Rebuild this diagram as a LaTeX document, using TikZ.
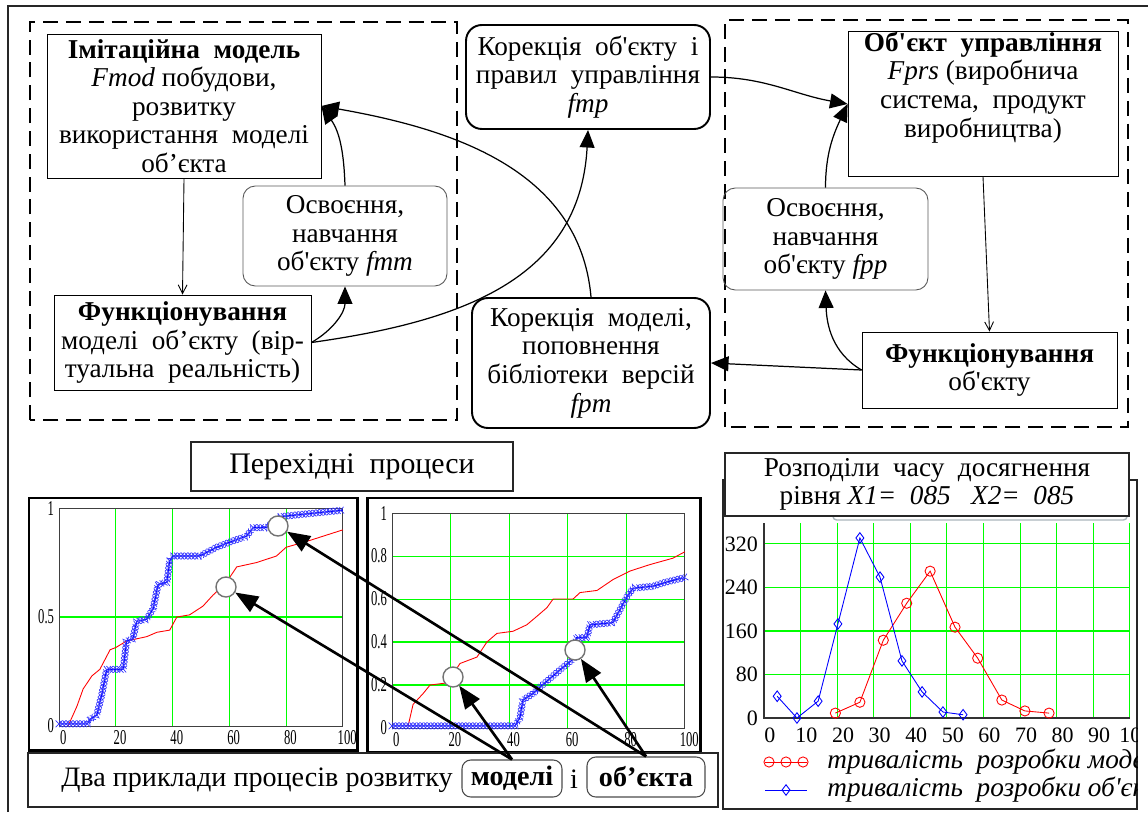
\documentclass[tikz,border=0pt]{standalone}
\usepackage{fontspec}
\usepackage{graphicx}
\setmainfont{Liberation Serif}
\newfontfamily\plainserif{Liberation Serif}
\usetikzlibrary{arrows.meta,decorations.markings,plotmarks}
\newcommand{\ap}{{\plainserif'}}
\newcommand{\narrow}[1]{\scalebox{0.6}[1]{#1}}

\tikzset{
  boxtext/.style={font=\fontsize{15.5}{16.3}\selectfont, align=center, inner sep=0pt},
  plainbox/.style={boxtext, draw, line width=0.5pt},
  softbox/.style={boxtext, draw=black!65, line width=0.5pt, rounded corners=7pt},
  corrbox/.style={boxtext, draw, line width=1.1pt, rounded corners=9pt},
  heavybox/.style={draw=black!85, line width=1.3pt, fill=white, align=center, inner sep=0pt},
  tagbox/.style={draw=black!70, line width=0.6pt, rounded corners=5pt, inner sep=0pt,
    font=\fontsize{16}{18}\selectfont},
  flow/.style={line width=0.7pt, -{Triangle[length=10pt,width=8.5pt]}},
  thinflow/.style={line width=0.5pt, -{Straight Barb[length=5pt,width=5pt]}},
  pointer/.style={line width=1.5pt, -{Triangle[length=13pt,width=10pt]}},
  spot/.style={circle, draw=black!55, fill=white, line width=0.8pt, minimum size=11.4pt, inner sep=0pt},
  grid line/.style={green, line width=0.6pt},
  ticklabel/.style={font=\fontsize{12}{12}\selectfont, inner sep=1pt},
  scalelabel/.style={font=\fontsize{12.5}{12.5}\selectfont, inner sep=0pt},
  xtrace/.style={blue, line width=0.6pt, postaction={decorate, decoration={markings,
    mark=between positions 0 and 1 step 2pt with {\draw[blue!80, line width=0.4pt]
      (-1.9pt,-1.9pt) -- (1.9pt,1.9pt) (-1.9pt,1.9pt) -- (1.9pt,-1.9pt);}}}},
}

\begin{document}
\begin{tikzpicture}[x=0.02cm, y=0.02cm]
  \useasboundingbox (0,0) rectangle (1148,812);
  \draw[line width=1.3pt, black!85] (8,0) -- (8,806) -- (1148,806);
  \draw[line width=1.6pt, dash pattern=on 8.5pt off 4.5pt] (30,392) rectangle (457,790);
  \draw[line width=1.6pt, dash pattern=on 8.5pt off 4.5pt] (725,385) rectangle (1128,792);

  \node[plainbox, minimum width=5.48cm, minimum height=2.88cm] (imit) at (184,706)
    {\textbf{Імітаційна\ \ модель}\\ \textit{Fmod} побудови,\\ розвитку\\ використання\ \ моделі\\ об’єкта};
  \node[plainbox, minimum width=5.14cm, minimum height=1.9cm] (funkm) at (182.5,469.5)
    {\textbf{Функціонування}\\ моделі\ \ об’єкту\ \ (вір-\\ туальна\ \ реальність)};
  \node[softbox, minimum width=4.08cm, minimum height=2cm] (fmm) at (345,576)
    {Освоєння,\\ навчання\\ об\ap єкту \textit{fmm}};
  \node[corrbox, minimum width=4.88cm, minimum height=2.08cm] (fmp) at (588,735)
    {Корекція\ \ об\ap єкту\ \ і\\ правил\ \ управління\\ \textit{fmp}};
  \node[corrbox, minimum width=4.76cm, minimum height=2.6cm] (fpm) at (591,449)
    {Корекція\ \ моделі,\\ поповнення\\ бібліотеки\ \ версій\\ \textit{fpm}};
  \node[plainbox, minimum width=5.4cm, minimum height=2.8cm] (obj) at (983,708)
    {\textbf{Об\ap єкт\ \ управління}\\ \textit{Fprs} (виробнича\\ система,\ \ продукт\\ виробництва)\\[6pt]};
  \node[softbox, minimum width=4.1cm, minimum height=2.04cm] (fpp) at (825.5,573)
    {Освоєння,\\ навчання\\ об\ap єкту \textit{fpp}};
  \node[plainbox, minimum width=5.1cm, minimum height=1.52cm] (funko) at (989.5,442)
    {\textbf{Функціонування}\\ об\ap єкту};

  \draw[thinflow] (imit.south) -- (funkm.north);
  \draw[flow] (funkm.east) to[out=30, in=-90] (fmm.south);
  \draw[flow] (funkm.east) to[out=8, in=-93, looseness=1.1] (fmp.south);
  \draw[flow] (fmm.north) to[out=92, in=-55] (imit.east);
  \draw[flow] (fpm.north) to[out=95, in=-10] (imit.east);
  \draw[flow] (fmp.east) to[out=0, in=170] (obj.west);
  \draw[flow] (fpp.north) to[out=90, in=-115] (obj.west);
  \draw[thinflow] (obj.south) -- (funko.north);
  \draw[flow] (funko.west) to[out=150, in=-88] (fpp.south);
  \draw[flow] (funko.west) -- (fpm.east);

  \node[heavybox, minimum width=6.44cm, minimum height=0.98cm, font=\fontsize{17}{19}\selectfont]
    (trans) at (352,345.5) {Перехідні\ \ процеси};

  \draw[line width=1.7pt] (29,62) rectangle (357,314);
  \begin{scope}[shift={(59,86)}, x=0.0568cm, y=4.36cm]
    \foreach \gx in {20,40,60,80} \draw[grid line] (\gx,0) -- (\gx,1);
    \draw[grid line] (0,0.5) -- (100,0.5);
    \draw[black!75, line width=0.5pt] (0,0) rectangle (100,1);
    \draw[red, line width=0.5pt] plot coordinates {(3.2,0) (6.3,0.09) (8.5,0.17) (11.6,0.23)
      (14.4,0.26) (18,0.35) (20,0.36) (23.8,0.39) (30.9,0.41) (34.5,0.43) (39,0.44) (41.5,0.5)
      (46,0.51) (50.7,0.55) (54.2,0.6) (59,0.66) (62.6,0.73) (69.6,0.75) (76.6,0.78) (80,0.82)
      (88,0.85) (100,0.9)};
    \draw[xtrace] plot coordinates {(0,0.01) (10,0.01) (10.9,0.03) (13.3,0.05) (15,0.14)
      (16.8,0.26) (22.6,0.26) (23.8,0.39) (26,0.4) (27.4,0.48) (30.9,0.49) (33.2,0.54)
      (34.9,0.65) (38,0.66) (39,0.76) (40.2,0.78) (49.6,0.78) (55.5,0.82) (61.4,0.85) (66,0.87)
      (68.4,0.91) (73,0.91) (77.8,0.96) (84.8,0.97) (100,0.99)};
    \foreach \gx in {0,20,40,60,80,100} \node[ticklabel, below] at (\gx+1.5,-0.01) {\narrow{\gx}};
    \foreach \gy/\gt in {0/0,0.5/0.5,1/1} \node[ticklabel, left] at (-1,\gy) {\narrow{\gt}};
  \end{scope}

  \draw[line width=1.7pt] (367,60) rectangle (700,314);
  \begin{scope}[shift={(392,84)}, x=0.0586cm, y=4.3cm]
    \foreach \gx in {20,40,60,80} \draw[grid line] (\gx,0) -- (\gx,1);
    \foreach \gy in {0.2,0.4,0.6,0.8} \draw[grid line] (0,\gy) -- (100,\gy);
    \draw[black!75, line width=0.5pt] (0,0) rectangle (100,1);
    \draw[red, line width=0.5pt] plot coordinates {(5.5,0.01) (7.2,0.11) (10.6,0.16) (13,0.2)
      (18.8,0.21) (23.2,0.3) (29,0.33) (32.4,0.4) (35.8,0.44) (41.3,0.45) (46,0.48) (49.5,0.52)
      (52.9,0.56) (55,0.6) (61.8,0.6) (64.2,0.63) (70,0.64) (75.4,0.69) (81.2,0.73) (88,0.76)
      (95.9,0.79) (100,0.82)};
    \draw[xtrace] plot coordinates {(0,0.01) (42,0.01) (43.7,0.05) (44.7,0.13) (48.1,0.16)
      (50.5,0.19) (57.3,0.27) (61.8,0.32) (63,0.42) (66.5,0.42) (67.6,0.48) (75.4,0.49)
      (77.8,0.55) (80.2,0.61) (82.3,0.65) (89.1,0.66) (93.9,0.68) (100,0.7)};
    \foreach \gx in {0,20,40,60,80,100} \node[ticklabel, below] at (\gx+1.5,-0.01) {\narrow{\gx}};
    \foreach \gy/\gt in {0/0,0.2/0.2,0.4/0.4,0.6/0.6,0.8/0.8,1/1}
      \node[ticklabel, left] at (-1,\gy) {\narrow{\gt}};
  \end{scope}

  \node[spot] (c1a) at (226,225) {};
  \node[spot] (c1b) at (278,286) {};
  \node[spot] (c2a) at (453,135) {};
  \node[spot] (c2b) at (575,162) {};

  \node[heavybox, minimum width=13.8cm, minimum height=1.08cm] (capbox) at (373,32) {};
  \node[font=\fontsize{16}{18}\selectfont, inner sep=0pt] (captext) at (257,32)
    {Два приклади процесів розвитку};
  \node[tagbox, minimum width=2cm, minimum height=0.74cm] (model) at (512,33.5) {\textbf{моделі}};
  \node[font=\fontsize{16}{18}\selectfont, inner sep=0pt] (conj) at (574,33) {і};
  \node[tagbox, minimum width=2.36cm, minimum height=0.8cm] (object) at (646,35) {\textbf{об’єкта}};

  \draw[pointer] (model.north) -- (c2a);
  \draw[pointer] (model.north) -- (c1a);
  \draw[pointer] (object.north) -- (c2b);
  \draw[pointer] (object.north) -- (c1b);

  \draw[line width=1.1pt, black!85] (723,3) rectangle (1137,332);
  \begin{scope}
    \clip (723,3) rectangle (1137,332);
    \begin{scope}[shift={(764,94)}, x=0.0732cm, y=0.01088cm]
      \foreach \gx in {10,20,...,100} \draw[grid line] (\gx,0) -- (\gx,358);
      \foreach \gy in {80,160,240,320} \draw[grid line] (0,\gy) -- (100,\gy);
      \draw[black!80, line width=0.6pt] (0,358) -- (0,0) -- (100,0);
      \draw[red, line width=0.5pt, mark=o, mark size=2.9pt, mark options={solid}]
        plot coordinates {(19.5,9) (26.2,29) (32.6,143) (39,211) (45.4,270) (52.2,167)
        (58.4,110) (65,33) (71.3,13) (77.9,9)};
      \draw[blue, line width=0.5pt, mark=diamond, mark size=3pt, mark options={solid}]
        plot coordinates {(3.6,40) (9,0) (14.8,31) (20.2,173) (26.2,331) (31.7,259) (37.7,105)
        (43.2,48) (48.9,11) (54.4,6)};
      \foreach \gx in {0,10,...,100} \node[scalelabel] at (\gx+1.6,-31) {\gx};
      \foreach \gy in {0,80,160,240,320} \node[scalelabel, anchor=east] at (-1.6,\gy) {\gy};
    \end{scope}
    \draw[red, line width=0.5pt, mark=o, mark size=2.9pt] (765,50) -- (807,50)
      plot coordinates {(769,50) (786,50) (803,50)};
    \draw[blue, line width=0.5pt] (765,22) -- (807,22);
    \draw[blue, line width=0.5pt, mark=diamond, mark size=3pt] plot coordinates {(786,22)};
    \node[anchor=west, inner sep=0pt, font=\fontsize{15.5}{17}\selectfont] (legm) at (827,50)
      {\textit{тривалість\ \ розробки моделі}};
    \node[anchor=west, inner sep=0pt, font=\fontsize{15.5}{17}\selectfont] (lego) at (827,22)
      {\textit{тривалість\ \ розробки об\ap єкта}};
  \end{scope}
  \draw[rounded corners=2pt, draw=cyan!25!black!40, line width=0.8pt] (833,292) rectangle (1127,332);
  \node[heavybox, line width=1.1pt, minimum width=8.08cm, minimum height=1.26cm,
    font=\fontsize{15.5}{16.3}\selectfont] (disttitle) at (927,327.5)
    {Розподіли\ \ часу\ \ досягнення\\ рівня \textit{X1= \ 085 \ \ X2= \ 085}};
\end{tikzpicture}
\end{document}
